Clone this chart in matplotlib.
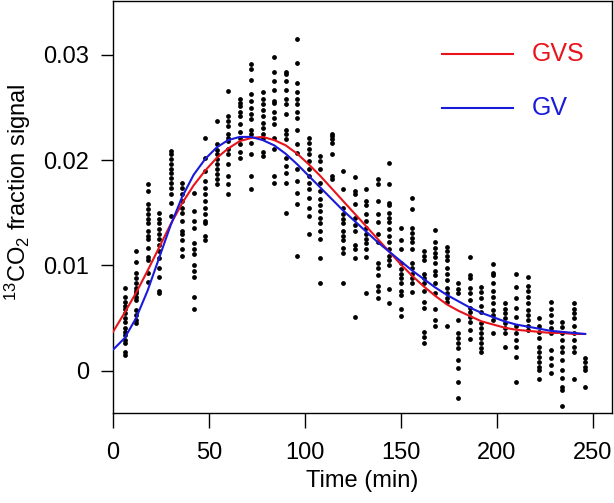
import matplotlib
matplotlib.use("Agg")
import matplotlib.pyplot as plt
from matplotlib.lines import Line2D

plt.rcParams['font.family'] = ['Liberation Sans', 'DejaVu Sans']
plt.rcParams['mathtext.fontset'] = 'custom'
plt.rcParams['mathtext.rm'] = 'Liberation Sans'
plt.rcParams['mathtext.it'] = 'Liberation Sans:italic'

# ---- observed data: sampling times (min) and signals at each time ----
times = [6, 12, 18, 24, 30, 36, 42, 48, 54, 60, 66, 72, 78, 84, 90, 96, 102, 108,
         114, 120, 126, 132, 138, 144, 150, 156, 162, 168, 174, 180, 186, 192, 198,
         204, 210, 216, 222, 228, 234, 240, 246]

signals = [
    [0.0079, 0.0070, 0.0065, 0.0062, 0.0059, 0.0055, 0.0050, 0.0046, 0.0041, 0.0037, 0.0034, 0.0029, 0.0026, 0.0018, 0.0015],
    [0.0114, 0.0103, 0.0093, 0.0088, 0.0083, 0.0079, 0.0076, 0.0074, 0.0070, 0.0067, 0.0058, 0.0053, 0.0048, 0.0045],
    [0.0177, 0.0171, 0.0158, 0.0154, 0.0149, 0.0144, 0.0140, 0.0133, 0.0128, 0.0125, 0.0117, 0.0108, 0.0105, 0.0093, 0.0084],
    [0.0150, 0.0144, 0.0140, 0.0135, 0.0130, 0.0125, 0.0119, 0.0114, 0.0107, 0.0098, 0.0089, 0.0076, 0.0074],
    [0.0209, 0.0206, 0.0201, 0.0196, 0.0192, 0.0188, 0.0183, 0.0178, 0.0174, 0.0168, 0.0159, 0.0147],
    [0.0178, 0.0174, 0.0168, 0.0161, 0.0155, 0.0150, 0.0142, 0.0133, 0.0130, 0.0124, 0.0116, 0.0109],
    [0.0169, 0.0152, 0.0142, 0.0136, 0.0121, 0.0116, 0.0111, 0.0100, 0.0095, 0.0089, 0.0070, 0.0059],
    [0.0221, 0.0202, 0.0190, 0.0180, 0.0174, 0.0168, 0.0161, 0.0155, 0.0149, 0.0142, 0.0140, 0.0128, 0.0124],
    [0.0237, 0.0215, 0.0210, 0.0206, 0.0201, 0.0196, 0.0192, 0.0187, 0.0182, 0.0177],
    [0.0266, 0.0242, 0.0237, 0.0232, 0.0225, 0.0221, 0.0218, 0.0211, 0.0206, 0.0196, 0.0185, 0.0177, 0.0168],
    [0.0258, 0.0254, 0.0251, 0.0246, 0.0242, 0.0234, 0.0227, 0.0221, 0.0215, 0.0208, 0.0202],
    [0.0291, 0.0286, 0.0276, 0.0263, 0.0256, 0.0249, 0.0244, 0.0239, 0.0229, 0.0225, 0.0216, 0.0206, 0.0185, 0.0173],
    [0.0265, 0.0258, 0.0253, 0.0248, 0.0242, 0.0235, 0.0230, 0.0225, 0.0221, 0.0208, 0.0204],
    [0.0298, 0.0284, 0.0275, 0.0267, 0.0256, 0.0254, 0.0246, 0.0240, 0.0234, 0.0221, 0.0211, 0.0185, 0.0178],
    [0.0284, 0.0282, 0.0275, 0.0267, 0.0258, 0.0253, 0.0244, 0.0229, 0.0225, 0.0220, 0.0202, 0.0194, 0.0188, 0.0178, 0.0150],
    [0.0315, 0.0292, 0.0273, 0.0265, 0.0258, 0.0253, 0.0246, 0.0240, 0.0229, 0.0215, 0.0207, 0.0192, 0.0180, 0.0169, 0.0158, 0.0109],
    [0.0221, 0.0216, 0.0211, 0.0206, 0.0199, 0.0192, 0.0185, 0.0178, 0.0173, 0.0164, 0.0155, 0.0147, 0.0130],
    [0.0204, 0.0199, 0.0192, 0.0178, 0.0171, 0.0163, 0.0157, 0.0152, 0.0145, 0.0140, 0.0133, 0.0125, 0.0107, 0.0083],
    [0.0225, 0.0223, 0.0220, 0.0216, 0.0206, 0.0185, 0.0182],
    [0.0190, 0.0173, 0.0155, 0.0149, 0.0144, 0.0140, 0.0133, 0.0128, 0.0124, 0.0117, 0.0112, 0.0083],
    [0.0184, 0.0171, 0.0168, 0.0158, 0.0145, 0.0138, 0.0133, 0.0119, 0.0116, 0.0107, 0.0051],
    [0.0173, 0.0161, 0.0157, 0.0149, 0.0142, 0.0136, 0.0130, 0.0125, 0.0121, 0.0116, 0.0108, 0.0074],
    [0.0182, 0.0177, 0.0161, 0.0149, 0.0141, 0.0130, 0.0122, 0.0102, 0.0098, 0.0091, 0.0081, 0.0076, 0.0069],
    [0.0197, 0.0177, 0.0159, 0.0157, 0.0150, 0.0145, 0.0141, 0.0135, 0.0128, 0.0122, 0.0116, 0.0109, 0.0105, 0.0100, 0.0078, 0.0064],
    [0.0136, 0.0124, 0.0116, 0.0102, 0.0097, 0.0092, 0.0088, 0.0083, 0.0076, 0.0072, 0.0059, 0.0052],
    [0.0164, 0.0154, 0.0136, 0.0131, 0.0126, 0.0122, 0.0116, 0.0102, 0.0098, 0.0092, 0.0088, 0.0083, 0.0075],
    [0.0114, 0.0109, 0.0105, 0.0092, 0.0088, 0.0083, 0.0076, 0.0065, 0.0060, 0.0037, 0.0032, 0.0026],
    [0.0134, 0.0122, 0.0117, 0.0112, 0.0108, 0.0102, 0.0095, 0.0091, 0.0083, 0.0074, 0.0059, 0.0048, 0.0043],
    [0.0118, 0.0114, 0.0109, 0.0105, 0.0098, 0.0092, 0.0086, 0.0079, 0.0074, 0.0069, 0.0065, 0.0043],
    [0.0083, 0.0078, 0.0074, 0.0048, 0.0036, 0.0031, 0.0026, 0.0022, 0.0010, 0.0003, -0.0011, -0.0026],
    [0.0108, 0.0091, 0.0088, 0.0079, 0.0074, 0.0067, 0.0060, 0.0056, 0.0051, 0.0046, 0.0039, 0.0030],
    [0.0080, 0.0075, 0.0069, 0.0062, 0.0056, 0.0045, 0.0041, 0.0036, 0.0031, 0.0026, 0.0022, 0.0018],
    [0.0101, 0.0093, 0.0091, 0.0083, 0.0076, 0.0070, 0.0064, 0.0058, 0.0053, 0.0048, 0.0036],
    [0.0064, 0.0059, 0.0055, 0.0050, 0.0045, 0.0041, 0.0036, 0.0023],
    [0.0092, 0.0080, 0.0069, 0.0060, 0.0051, 0.0043, 0.0036, 0.0029, 0.0023, 0.0013, -0.0011],
    [0.0089, 0.0081, 0.0076, 0.0070, 0.0064, 0.0058, 0.0053, 0.0048, 0.0043, 0.0039],
    [0.0050, 0.0043, 0.0037, 0.0031, 0.0023, 0.0018, 0.0013, 0.0008, 0.0004, 0.0001, -0.0008],
    [0.0065, 0.0059, 0.0053, 0.0046, 0.0041, 0.0036, 0.0020, 0.0012, 0.0006, -0.0002],
    [0.0046, 0.0042, 0.0036, 0.0029, 0.0023, 0.0018, 0.0010, 0.0001, -0.0007, -0.0015, -0.0018, -0.0033],
    [0.0064, 0.0059, 0.0055, 0.0050, 0.0043, 0.0036, 0.0029, 0.0023, 0.0018, -0.0008],
    [0.0012, 0.0008, 0.0004, 0.0001, -0.0015],
]

# ---- fitted curves ----
curve_time = [0, 6, 12, 18, 24, 30, 36, 42, 48, 54, 60, 66, 72, 78, 84, 90, 96, 102,
              108, 114, 120, 126, 132, 138, 144, 150, 156, 162, 168, 174, 180, 186,
              192, 198, 204, 210, 216, 222, 228, 234, 240, 246]
gvs_fit = [0.0037, 0.0055, 0.0074, 0.0095, 0.0117, 0.0139, 0.0159, 0.0176, 0.0190, 0.0202,
           0.0211, 0.0218, 0.0221, 0.0222, 0.0219, 0.0214, 0.0206, 0.0196, 0.0185, 0.0173,
           0.0161, 0.0149, 0.0137, 0.0125, 0.0113, 0.0101, 0.0090, 0.0080, 0.0071, 0.0063,
           0.0057, 0.0052, 0.0047, 0.0044, 0.0041, 0.0039, 0.0038, 0.0037, 0.0036, 0.0036,
           0.0035, 0.0035]
gv_fit = [0.0020, 0.0031, 0.0050, 0.0076, 0.0107, 0.0138, 0.0165, 0.0186, 0.0201, 0.0212,
          0.0219, 0.0222, 0.0222, 0.0219, 0.0214, 0.0206, 0.0196, 0.0185, 0.0174, 0.0163,
          0.0152, 0.0142, 0.0132, 0.0122, 0.0113, 0.0104, 0.0095, 0.0087, 0.0079, 0.0072,
          0.0066, 0.0060, 0.0055, 0.0051, 0.0047, 0.0044, 0.0042, 0.0040, 0.0038, 0.0037,
          0.0036, 0.0035]

series_labels = ["GVS", "GV"]
series_colors = ["#e8141b", "#1a1adb"]

xticks = [0, 50, 100, 150, 200, 250]
yticks = [0, 0.01, 0.02, 0.03]
ytick_labels = ["0", "0.01", "0.02", "0.03"]

fig = plt.figure(figsize=(6.14, 5.03), dpi=100)
ax = fig.add_axes([113 / 614, 1 - 413 / 503, 499 / 614, 412 / 503])

for t, vals in zip(times, signals):
    ax.scatter([t] * len(vals), vals, s=12, c="black", linewidths=0, zorder=2)

ax.plot(curve_time, gvs_fit, color=series_colors[0], lw=1.5, zorder=3,
        solid_joinstyle="round")
ax.plot(curve_time, gv_fit, color=series_colors[1], lw=1.5, zorder=3,
        solid_joinstyle="round")

ax.set_xlim(0, 260)
ax.set_ylim(-0.004, 0.0351)
ax.set_xticks(xticks)
ax.set_xticklabels([str(v) for v in xticks])
ax.set_yticks(yticks)
ax.set_yticklabels(ytick_labels)
ax.tick_params(axis="x", length=11, width=1, pad=10, labelsize=17)
ax.tick_params(axis="y", length=9, width=1, pad=8, labelsize=17)
for s in ax.spines.values():
    s.set_linewidth(1)

ax.set_xlabel("Time (min)", fontsize=17)
ax.xaxis.set_label_coords(0.5, -0.138)
ax.set_ylabel(r"$^{13}$CO$_2$ fraction signal", fontsize=17)
ax.yaxis.set_label_coords(-0.16, 0.535)

# legend drawn manually (line + coloured text)
leg_y = [0.872, 0.741]
for lbl, col, yy in zip(series_labels, series_colors, leg_y):
    ax.add_line(Line2D([0.659, 0.802], [yy, yy], transform=ax.transAxes, color=col, lw=1.5))
    ax.text(0.840, yy, lbl, transform=ax.transAxes, color=col, fontsize=18,
            va="center", ha="left")

fig.savefig("out.png", dpi=100)
